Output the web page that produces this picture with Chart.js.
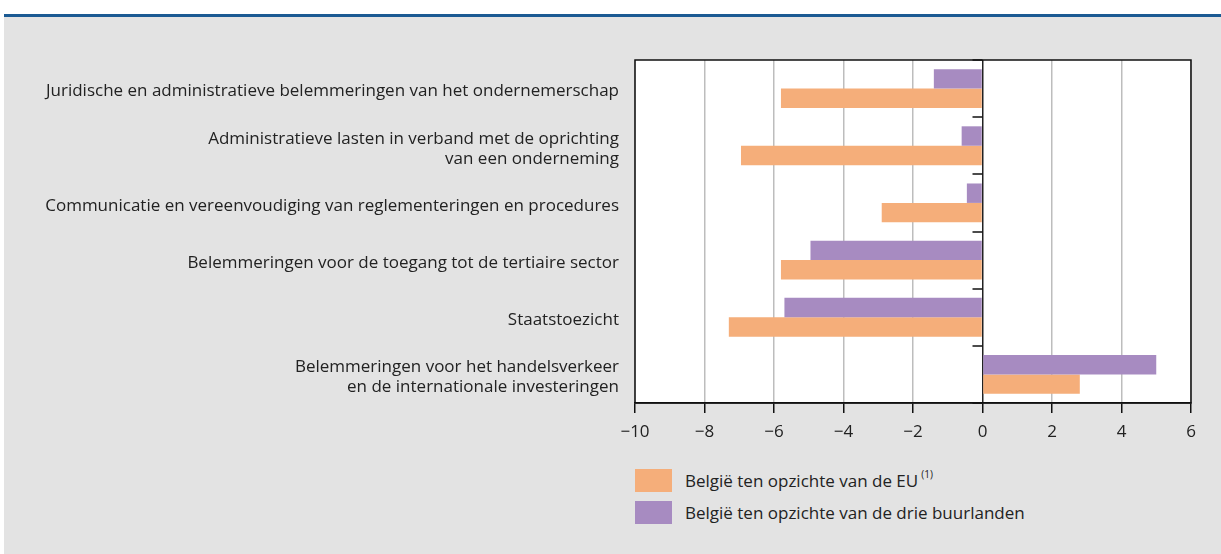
<!DOCTYPE html>
<html>
<head>
<meta charset="utf-8">
<script src="https://cdn.jsdelivr.net/npm/chart.js@4"></script>
<style>
  html, body { margin: 0; padding: 0; }
  body { width: 1221px; height: 554px; background: #fff; position: relative; overflow: hidden; font-family: "Open Sans", sans-serif; }
  #topline { position: absolute; left: 4px; top: 14px; width: 1217px; height: 3px; background: #1b5a93; }
  #panel { position: absolute; left: 4px; top: 17px; width: 1217px; height: 537px; background: #e3e3e3; }
  #wrap { position: absolute; left: 0; top: 0; width: 1221px; height: 460px; }
  #legend { position: absolute; left: 635px; top: 469px; color: #222; font-size: 17px; }
  .item { display: flex; align-items: center; height: 23px; margin-bottom: 9px; }
  .box { width: 37px; height: 23px; margin-right: 13px; }
  sup { font-size: 10px; position: relative; top: -2px; margin-left: 3px; }
</style>
</head>
<body>
<div id="topline"></div>
<div id="panel"></div>
<div id="wrap"><canvas id="chart"></canvas></div>
<div id="legend">
  <div class="item"><div class="box" style="background:#f5ae7a"></div><span>België ten opzichte van de EU<sup>(1)</sup></span></div>
  <div class="item"><div class="box" style="background:#a78bc1"></div><span>België ten opzichte van de drie buurlanden</span></div>
</div>
<script>
// Categorieën (van boven naar onder)
const categories = [
    'Juridische en administratieve belemmeringen van het ondernemerschap',
    ['Administratieve lasten in verband met de oprichting', 'van een onderneming'],
    'Communicatie en vereenvoudiging van reglementeringen en procedures',
    'Belemmeringen voor de toegang tot de tertiaire sector',
    'Staatstoezicht',
    ['Belemmeringen voor het handelsverkeer', 'en de internationale investeringen']
];
const euValues = [-5.8, -6.95, -2.9, -5.8, -7.3, 2.8];
const neighbourValues = [-1.4, -0.6, -0.45, -4.95, -5.7, 5.0];
const xMin = -10, xMax = 6, xStep = 2;

const orange = '#f5ae7a';
const purple = '#a78bc1';

// Witte achtergrond, kader en streepjes op de nullijn
const framePlugin = {
    id: 'frame',
    beforeDraw(chart) {
        const a = chart.chartArea, ctx = chart.ctx;
        ctx.save();
        ctx.fillStyle = '#fff';
        ctx.fillRect(a.left, a.top, a.right - a.left, a.bottom - a.top);
        ctx.restore();
    },
    afterDraw(chart) {
        const a = chart.chartArea, ctx = chart.ctx;
        const x0 = chart.scales.x.getPixelForValue(0);
        const y = chart.scales.y;
        ctx.save();
        ctx.strokeStyle = '#111';
        ctx.lineWidth = 1.5;
        ctx.strokeRect(a.left, a.top, a.right - a.left, a.bottom - a.top);
        for (let i = 0; i <= categories.length; i++) {
            const py = Math.round(y.getPixelForValue(i - 0.5));
            ctx.beginPath();
            ctx.moveTo(x0 - 10, py);
            ctx.lineTo(x0, py);
            ctx.stroke();
        }
        ctx.restore();
    }
};

new Chart(document.getElementById('chart'), {
    type: 'bar',
    data: {
        labels: categories,
        datasets: [
            { label: 'België ten opzichte van de drie buurlanden', data: neighbourValues, backgroundColor: purple },
            { label: 'België ten opzichte van de EU', data: euValues, backgroundColor: orange }
        ]
    },
    options: {
        indexAxis: 'y',
        responsive: true,
        maintainAspectRatio: false,
        animation: false,
        datasets: { bar: { barPercentage: 1, categoryPercentage: 0.68 } },
        layout: { padding: { top: 60, right: 30, left: 0, bottom: 0 } },
        plugins: { legend: { display: false }, tooltip: { enabled: false } },
        scales: {
            x: {
                min: xMin,
                max: xMax,
                afterFit(scale) { scale.height = 57; },
                ticks: {
                    stepSize: xStep,
                    color: '#222',
                    padding: 9,
                    font: { family: 'Open Sans', size: 17 },
                    callback: v => v < 0 ? '\u2212' + Math.abs(v) : String(v)
                },
                grid: {
                    color: c => c.tick && c.tick.value === 0 ? '#222' : '#bdbdbd',
                    lineWidth: 1.5,
                    tickColor: '#111',
                    tickLength: 10
                },
                border: { color: '#111', width: 1.5 }
            },
            y: {
                afterFit(scale) { scale.width = 635; },
                ticks: {
                    color: '#222',
                    padding: 16,
                    labelOffset: 3,
                    font: { family: 'Open Sans', size: 17, lineHeight: 1.18 }
                },
                grid: { display: false, drawTicks: false },
                border: { display: false }
            }
        }
    },
    plugins: [framePlugin]
});
</script>
</body>
</html>
